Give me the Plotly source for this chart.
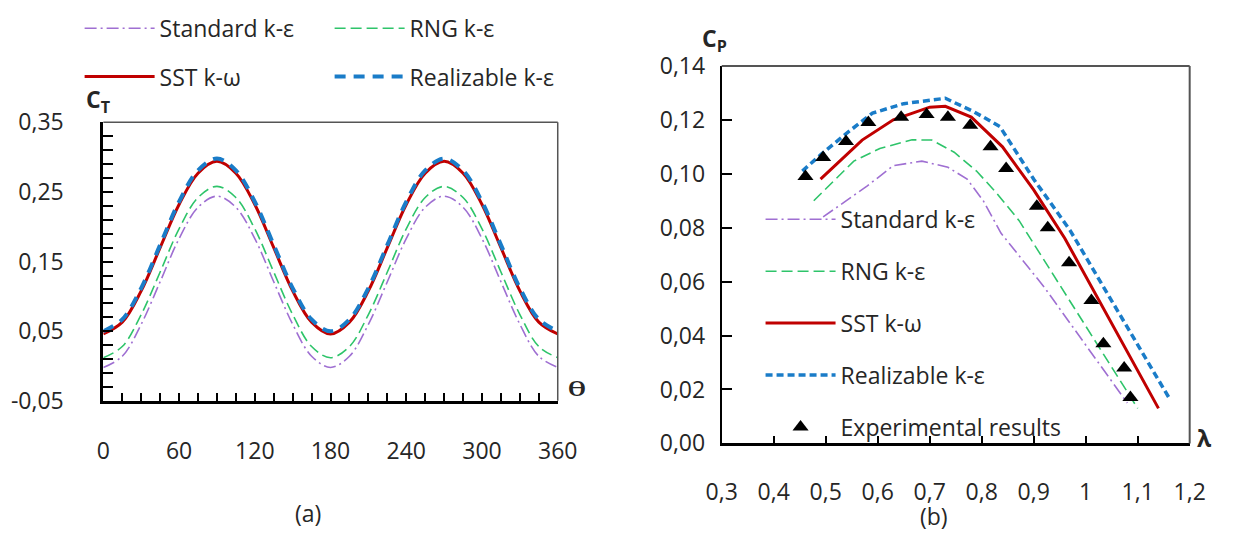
import plotly.graph_objects as go

# ---- (a) torque coefficient vs azimuth ----
theta = [0, 15, 30, 45, 60, 75, 90, 105, 120, 135, 150, 165, 180,
         195, 210, 225, 240, 255, 270, 285, 300, 315, 330, 345, 360]
ct_standard = [-0.002, 0.014, 0.060, 0.121, 0.183, 0.228, 0.244, 0.228, 0.183, 0.121, 0.060, 0.014, -0.002,
               0.014, 0.060, 0.121, 0.183, 0.228, 0.244, 0.228, 0.183, 0.121, 0.060, 0.014, -0.002]
ct_rng = [0.012, 0.028, 0.074, 0.135, 0.197, 0.242, 0.258, 0.242, 0.197, 0.135, 0.074, 0.028, 0.012,
          0.028, 0.074, 0.135, 0.197, 0.242, 0.258, 0.242, 0.197, 0.135, 0.074, 0.028, 0.012]
ct_sst = [0.046, 0.063, 0.108, 0.170, 0.232, 0.277, 0.294, 0.277, 0.232, 0.170, 0.108, 0.063, 0.046,
          0.063, 0.108, 0.170, 0.232, 0.277, 0.294, 0.277, 0.232, 0.170, 0.108, 0.063, 0.046]
ct_realizable = [0.050, 0.067, 0.112, 0.174, 0.236, 0.281, 0.298, 0.281, 0.236, 0.174, 0.112, 0.067, 0.050,
                 0.067, 0.112, 0.174, 0.236, 0.281, 0.298, 0.281, 0.236, 0.174, 0.112, 0.067, 0.050]
ct_tick_values = [-0.05, -0.03, -0.01, 0.01, 0.03, 0.05, 0.07, 0.09, 0.11, 0.13, 0.15,
                  0.17, 0.19, 0.21, 0.23, 0.25, 0.27, 0.29, 0.31, 0.33, 0.35]
ct_tick_labels = ["-0,05", "", "", "", "", "0,05", "", "", "", "", "0,15",
                  "", "", "", "", "0,25", "", "", "", "", "0,35"]

# ---- (b) power coefficient vs tip speed ratio ----
lam_standard = [0.495, 0.58, 0.63, 0.685, 0.735, 0.772, 0.803, 0.837, 0.92, 1.08]
cp_standard = [0.084, 0.0955, 0.103, 0.1047, 0.1024, 0.098, 0.090, 0.078, 0.058, 0.015]
lam_rng = [0.477, 0.554, 0.604, 0.666, 0.704, 0.747, 0.79, 0.828, 0.872, 1.10]
cp_rng = [0.090, 0.1047, 0.1094, 0.1126, 0.1125, 0.108, 0.101, 0.093, 0.0826, 0.013]
lam_sst = [0.49, 0.57, 0.63, 0.70, 0.73, 0.78, 0.84, 0.90, 0.96, 1.14]
cp_sst = [0.098, 0.1125, 0.120, 0.1247, 0.125, 0.121, 0.110, 0.094, 0.076, 0.013]
lam_realizable = [0.455, 0.49, 0.54, 0.59, 0.65, 0.71, 0.73, 0.785, 0.835, 0.90, 0.97, 1.16]
cp_realizable = [0.101, 0.107, 0.115, 0.1225, 0.126, 0.1277, 0.128, 0.123, 0.1175, 0.098, 0.079, 0.017]
lam_exp = [0.461, 0.495, 0.539, 0.582, 0.645, 0.694, 0.735, 0.778, 0.817, 0.847,
           0.906, 0.927, 0.968, 1.011, 1.034, 1.074, 1.086]
cp_exp = [0.099, 0.106, 0.112, 0.119, 0.121, 0.122, 0.121, 0.118, 0.110, 0.102,
          0.088, 0.080, 0.067, 0.053, 0.037, 0.028, 0.017]

PURPLE = "#9f6fd2"
GREEN = "#2ec46a"
RED = "#c00000"
BLUE = "#1a7cc8"
TEXT = "#262626"
FONT = "Open Sans"
FS = 23

fig = go.Figure()

# left panel
fig.add_trace(go.Scatter(x=theta, y=ct_standard, mode="lines", name="Standard k-ε",
                         line=dict(color=PURPLE, width=1.6, dash="12px,4px,2px,4px", shape="spline"),
                         legend="legend", xaxis="x", yaxis="y"))
fig.add_trace(go.Scatter(x=theta, y=ct_rng, mode="lines", name="RNG k-ε",
                         line=dict(color=GREEN, width=1.6, dash="11px,5px", shape="spline"),
                         legend="legend", xaxis="x", yaxis="y"))
fig.add_trace(go.Scatter(x=theta, y=ct_sst, mode="lines", name="SST k-ω",
                         line=dict(color=RED, width=3, shape="spline"),
                         legend="legend2", xaxis="x", yaxis="y"))
fig.add_trace(go.Scatter(x=theta, y=ct_realizable, mode="lines", name="Realizable k-ε",
                         line=dict(color=BLUE, width=4, dash="11px,8px", shape="spline"),
                         legend="legend2", xaxis="x", yaxis="y"))

# right panel
fig.add_trace(go.Scatter(x=lam_standard, y=cp_standard, mode="lines", name="Standard k-ε",
                         line=dict(color=PURPLE, width=1.6, dash="12px,4px,2px,4px"),
                         legend="legend3", legendgroup="b1", xaxis="x2", yaxis="y2"))
fig.add_trace(go.Scatter(x=lam_rng, y=cp_rng, mode="lines", name="RNG k-ε",
                         line=dict(color=GREEN, width=1.6, dash="11px,5px"),
                         legend="legend3", legendgroup="b2", xaxis="x2", yaxis="y2"))
fig.add_trace(go.Scatter(x=lam_sst, y=cp_sst, mode="lines", name="SST k-ω",
                         line=dict(color=RED, width=3),
                         legend="legend3", legendgroup="b3", xaxis="x2", yaxis="y2"))
fig.add_trace(go.Scatter(x=lam_realizable, y=cp_realizable, mode="lines", name="Realizable k-ε",
                         line=dict(color=BLUE, width=3.5, dash="7px,4px"),
                         legend="legend3", legendgroup="b4", xaxis="x2", yaxis="y2"))
fig.add_trace(go.Scatter(x=lam_exp, y=cp_exp, mode="markers", name="Experimental results",
                         marker=dict(symbol="triangle-up", size=14, color="black"),
                         legend="legend3", legendgroup="b5", xaxis="x2", yaxis="y2"))

axis_font = dict(family=FONT, size=FS, color=TEXT)
common = dict(showgrid=False, zeroline=False, showline=True, linecolor="black",
              ticks="inside", tickcolor="black", tickwidth=2, tickfont=axis_font)

legend_common = dict(font=dict(family=FONT, size=FS, color=TEXT), bgcolor="rgba(0,0,0,0)",
                     borderwidth=0, itemwidth=70, itemclick=False)

fig.update_layout(
    width=1234, height=540, margin=dict(l=0, r=0, t=0, b=0),
    paper_bgcolor="white", plot_bgcolor="white", separators=",.",
    font=dict(family=FONT, color=TEXT),
    xaxis=dict(domain=[0.0729, 0.4522], range=[0, 360], tick0=0, dtick=60, ticklen=8,
               linewidth=3, ticklabelstandoff=28, anchor="y",
               minor=dict(dtick=15, tick0=0, ticks="inside", ticklen=8, tickwidth=2, tickcolor="black"),
               **common),
    yaxis=dict(domain=[0.2444, 0.7926], range=[-0.05, 0.35], tickmode="array",
               tickvals=ct_tick_values, ticktext=ct_tick_labels, ticklen=10,
               linewidth=3, ticklabelstandoff=32, anchor="x", **common),
    xaxis2=dict(domain=[0.5891, 0.9797], range=[0.3, 1.2], tick0=0.3, dtick=0.1, ticklen=8,
                linewidth=2.5, ticklabelstandoff=26, anchor="y2", **common),
    yaxis2=dict(domain=[0.1606, 0.9037], range=[0, 0.14], tick0=0, dtick=0.02, ticklen=10,
                tickformat=".2f", linewidth=2, ticklabelstandoff=10, anchor="x2", **common),
    legend=dict(orientation="h", x=0.0531, y=1.02, xanchor="left", yanchor="top",
                entrywidth=165, entrywidthmode="pixels", **legend_common),
    legend2=dict(orientation="h", x=0.0531, y=0.925, xanchor="left", yanchor="top",
                 entrywidth=165, entrywidthmode="pixels", **legend_common),
    legend3=dict(orientation="v", x=0.6215, y=0.644, xanchor="left", yanchor="top",
                 tracegroupgap=19, traceorder="grouped", **legend_common),
    showlegend=True,
)

# thin grey top/right borders of both plot frames
for xr, yr, w in (("x domain", "y domain", 1.5), ("x2 domain", "y2 domain", 2)):
    fig.add_shape(type="line", xref=xr, yref=yr, x0=0, x1=1, y0=1, y1=1,
                  line=dict(color="#555555", width=w))
    fig.add_shape(type="line", xref=xr, yref=yr, x0=1, x1=1, y0=0, y1=1,
                  line=dict(color="#555555", width=w))

ann_font = dict(family=FONT, size=FS, color=TEXT)
labels = [
    ("<b>C<sub>T</sub></b>", 84, 89),
    ("<b>ϴ</b>", 578, 393),
    ("<b>C<sub>P</sub></b>", 720, 24),
    ("<b>λ</b>", 1224, 447),
    ("(a)", 301, 527),
    ("(b)", 946, 530),
]
for txt, px, py in labels:
    fig.add_annotation(text=txt, x=px / 1234, y=1 - py / 540, xref="paper", yref="paper",
                       showarrow=False, font=ann_font, xanchor="center", yanchor="middle")

fig.write_html("out.html")
